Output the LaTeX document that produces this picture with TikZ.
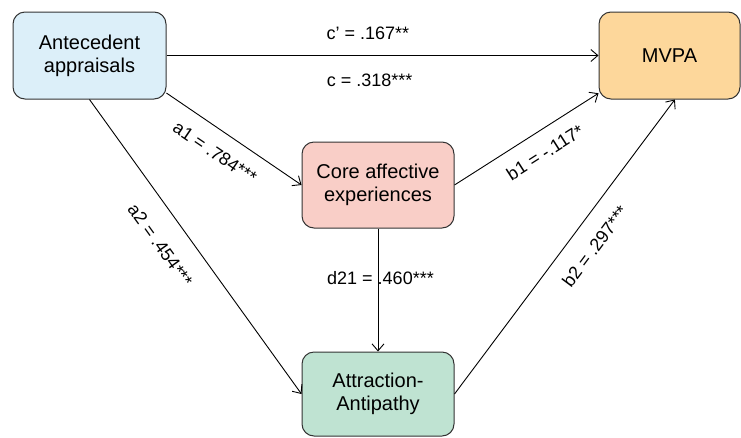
\documentclass[tikz,border=0pt]{standalone}
\usepackage{fontspec}
\setmainfont{Liberation Sans}
\usetikzlibrary{arrows.meta}
\definecolor{antefill}{HTML}{DCEFF9}
\definecolor{mvpafill}{HTML}{FDD79B}
\definecolor{corefill}{HTML}{F9CEC7}
\definecolor{attrfill}{HTML}{BFE3D2}
\tikzset{
  box/.style={draw=black!80, line width=1pt, rounded corners=12pt, align=center,
    inner sep=0pt, font=\fontsize{20}{23}\selectfont},
  link/.style={->, >={Straight Barb[length=7pt,width=12pt]}, line width=0.9pt},
  coef/.style={inner sep=0pt, font=\fontsize{18}{20}\selectfont}
}
\begin{document}
\begin{tikzpicture}[x=1pt,y=-1pt]
    \useasboundingbox (0,0) rectangle (741,437);
    % boxes
    \node[box, fill=antefill, minimum width=153pt, minimum height=87pt] (ante) at (89.5,55.5) {Antecedent\\appraisals};
    \node[box, fill=mvpafill, minimum width=141pt, minimum height=87pt] (mvpa) at (669.5,55.5) {MVPA};
    \node[box, fill=corefill, minimum width=152pt, minimum height=86pt] (core) at (378,185) {Core affective\\experiences};
    \node[box, fill=attrfill, minimum width=152pt, minimum height=84pt] (attr) at (378,394) {Attraction-\\Antipathy};
    % direct path
    \draw[link] (ante.east) -- node[coef, pos=0.466, above=15pt]{c’ = .167**} node[coef, pos=0.47, below=18pt]{c = .318***} (mvpa.west);
    % first mediator
    \draw[link] (ante.-26) -- node[coef, sloped, pos=0.45, below=15pt]{a1 = .784***} (core.west);
    \draw[link] (core.east) -- node[coef, sloped, pos=0.55, below=14pt]{b1 = -.117*} (mvpa.208);
    % second mediator
    \draw[link] (ante.south) -- node[coef, sloped, pos=0.44, below=21pt]{a2 = .454***} (attr.west);
    \draw[link] (attr.east) -- node[coef, sloped, pos=0.55, below=17pt]{b2 = .297***} (mvpa.-83);
    % serial path
    \draw[link] (core.south) -- node[coef, pos=0.4, xshift=2.5pt]{d21 = .460***} (attr.north);
\end{tikzpicture}
\end{document}
